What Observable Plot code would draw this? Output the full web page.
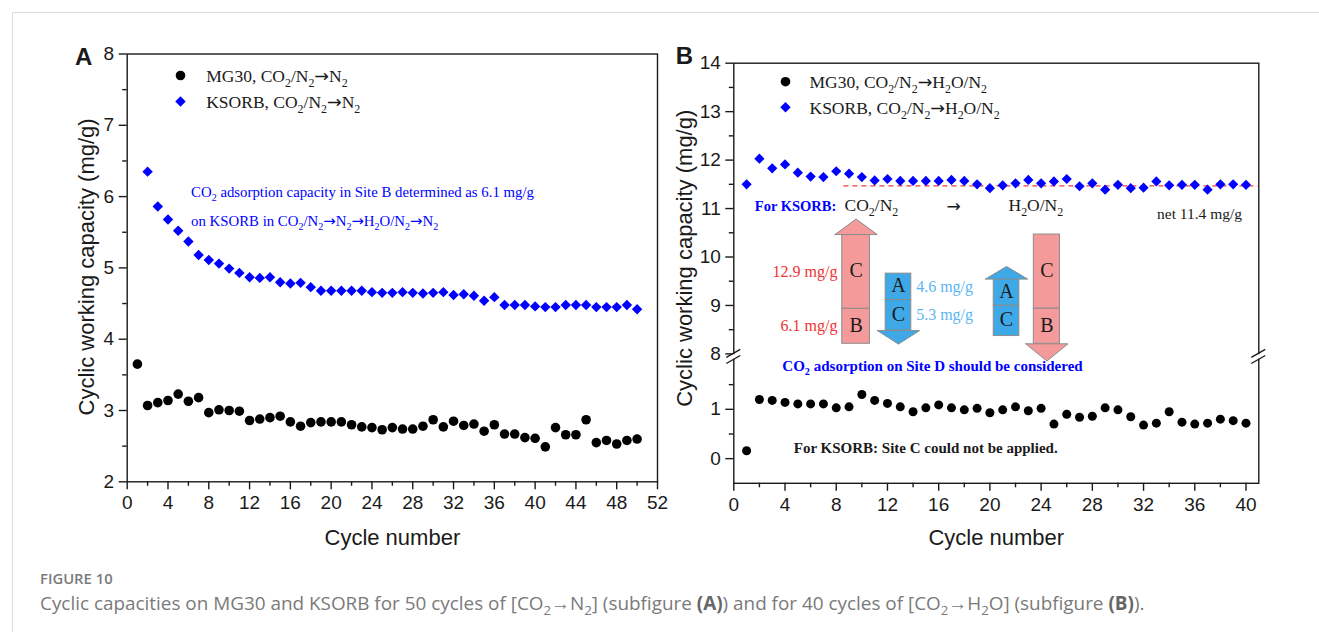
<!DOCTYPE html>
<html>
<head>
<meta charset="utf-8">
<script src="https://cdn.jsdelivr.net/npm/d3@7"></script>
<script src="https://cdn.jsdelivr.net/npm/@observablehq/plot@0.6"></script>
<style>
  body { margin: 0; background: #fff; }
  #fig { position: relative; width: 1319px; height: 632px; overflow: hidden; background: #fff; }
  #card { position: absolute; left: 12px; top: 12px; width: 1320px; height: 630px; border-top: 1px solid #dcdcdc; border-left: 1px solid #dcdcdc; }
  .panel { position: absolute; top: 0; }
  .panel svg { overflow: visible; }
  #capnum { position: absolute; left: 40px; top: 568px; font: 600 14.8px "Open Sans", Roboto, sans-serif; color: #7a7a7a; }
  #cap { position: absolute; left: 40px; top: 590px; font: 18.9px "Open Sans", Roboto, sans-serif; color: #7a7a7a; white-space: nowrap; }
  #cap sub { font-size: 70%; line-height: 0; }
  #cap b { color: #666; }
</style>
</head>
<body>
<div id="fig">
  <div id="card"></div>
  <div id="panelA" class="panel" style="left:0px"></div>
  <div id="panelB" class="panel" style="left:640px"></div>
  <div id="panelD" class="panel" style="left:640px"></div>
  <div id="capnum">FIGURE 10</div>
  <div id="cap">Cyclic capacities on MG30 and KSORB for 50 cycles of [CO<sub>2</sub>→N<sub>2</sub>] (subfigure <b>(A)</b>) and for 40 cycles of [CO<sub>2</sub>→H<sub>2</sub>O] (subfigure <b>(B)</b>).</div>
</div>
<script>
// ---------------- Data ----------------
// Panel A: CO2/N2 -> N2, cycles 1..50 (MG30) and 2..50 (KSORB)
const mg30A = [3.65,3.07,3.11,3.14,3.23,3.13,3.18,2.97,3.01,3.00,
               2.99,2.86,2.88,2.90,2.92,2.84,2.78,2.83,2.84,2.84,
               2.84,2.80,2.77,2.76,2.73,2.76,2.74,2.74,2.78,2.87,
               2.77,2.85,2.79,2.81,2.71,2.80,2.67,2.67,2.62,2.61,
               2.49,2.76,2.66,2.66,2.87,2.55,2.58,2.53,2.58,2.60];
const mg30AFirstCycle = 1;
const ksorbA = [6.35,5.86,5.68,5.52,5.37,5.18,5.11,5.06,4.99,4.93,
                4.87,4.86,4.87,4.80,4.78,4.79,4.73,4.68,4.68,4.68,
                4.68,4.68,4.66,4.65,4.65,4.66,4.65,4.64,4.65,4.66,
                4.62,4.63,4.61,4.54,4.59,4.48,4.48,4.48,4.46,4.45,
                4.45,4.48,4.48,4.48,4.45,4.45,4.45,4.48,4.42];
const ksorbAFirstCycle = 2;

// Panel B: CO2/N2 -> H2O/N2, cycles 1..40
const ksorbB = [11.50,12.03,11.83,11.91,11.74,11.66,11.65,11.77,11.72,11.65,
                11.58,11.61,11.57,11.57,11.57,11.57,11.59,11.57,11.50,11.42,
                11.48,11.52,11.59,11.52,11.56,11.61,11.46,11.52,11.39,11.49,
                11.42,11.43,11.56,11.48,11.49,11.49,11.39,11.50,11.50,11.49];
const mg30B = [0.16,1.20,1.18,1.14,1.11,1.11,1.11,1.03,1.05,1.30,
               1.18,1.12,1.05,0.95,1.03,1.09,1.03,0.99,1.02,0.93,
               0.99,1.05,0.97,1.02,0.70,0.90,0.84,0.86,1.03,0.99,
               0.85,0.68,0.72,0.95,0.74,0.70,0.72,0.80,0.77,0.72];
const bFirstCycle = 1;
const netLine = [{y: 11.47, x1: 8.6, x2: 41}];

// Site capacities in the schematic (mg/g)
const siteCO2 = {B: 6.1, C: 12.9};   // CO2/N2 step
const siteH2O = {A: 4.6, C: 5.3};    // H2O/N2 step

// Tick labels
const xTicksA = [0,4,8,12,16,20,24,28,32,36,40,44,48,52];
const xMinorA = [2,6,10,14,18,22,26,30,34,38,42,46,50];
const yTicksA = [2,3,4,5,6,7,8];
const yMinorA = [2.5,3.5,4.5,5.5,6.5,7.5];
const xTicksB = [0,4,8,12,16,20,24,28,32,36,40];
const xMinorB = [2,6,10,14,18,22,26,30,34,38];
const yTicksB = [0,1,8,9,10,11,12,13,14];
const yMinorB = [0.5,1.5,8.5,9.5,10.5,11.5,12.5,13.5];

// Texts
const yTitle = "Cyclic working capacity (mg/g)";
const xTitle = "Cycle number";
const legendA = ["MG30, CO₂/N₂→N₂", "KSORB, CO₂/N₂→N₂"];
const legendB = ["MG30, CO₂/N₂→H₂O/N₂", "KSORB, CO₂/N₂→H₂O/N₂"];
const noteA = ["CO₂ adsorption capacity in Site B determined as 6.1 mg/g", "on KSORB in CO₂/N₂→N₂→H₂O/N₂→N₂"];

// ---------------- Styles ----------------
const SANS = '"Liberation Sans", Arial, sans-serif';
const SERIF = '"Liberation Serif", "Times New Roman", serif';
const INK = "#1a1a1a";
const BLUE = "#0000ff";
const PINK = "#f59a9a", SKY = "#3fa8e6", EDGE = "#8c8c8c";
const fmt = d => String(d);

function axes(xT, xM, yT, yM) {
  const common = {strokeWidth: 1.4, fontSize: 19, fontFamily: SANS, label: null};
  return [
    Plot.axisX({...common, ticks: xT, tickSize: 8, tickPadding: 6, tickFormat: fmt}),
    Plot.axisX({...common, ticks: xM, tickSize: 4.5, tickFormat: () => ""}),
    Plot.axisY({...common, ticks: yT, tickSize: 8, tickPadding: 5, tickFormat: fmt}),
    Plot.axisY({...common, ticks: yM, tickSize: 4.5, tickFormat: () => ""})
  ];
}
const one = {length: 1};
function label(text, o) {
  return Plot.text(one, {text: [text], fill: INK, textAnchor: "start", lineAnchor: "middle", frameAnchor: "top-left", ...o});
}

// real subscripts and a full-width arrow glyph inside SVG texts
function subscriptify(root) {
  root.querySelectorAll("text").forEach(t => {
    const s = t.textContent;
    if (!/[₂→]/.test(s)) return;
    const fs = parseFloat(getComputedStyle(t).fontSize) || 16;
    const sh = (0.28 * fs).toFixed(2);
    t.textContent = "";
    let shifted = false;
    for (const p of s.split(/(₂|→)/)) {
      if (!p) continue;
      const ts = document.createElementNS("http://www.w3.org/2000/svg", "tspan");
      if (p === "₂") {
        ts.textContent = "2"; ts.setAttribute("font-size", (0.68 * fs).toFixed(2));
        if (!shifted) ts.setAttribute("dy", sh);
        shifted = true;
      } else {
        ts.textContent = p;
        if (p === "→") { ts.setAttribute("font-family", '"DejaVu Sans", sans-serif'); ts.setAttribute("font-size", (1.0 * fs).toFixed(2)); }
        if (shifted) ts.setAttribute("dy", "-" + sh);
        shifted = false;
      }
      t.appendChild(ts);
    }
  });
}

// ---------------- Panel A ----------------
const A = Plot.plot({
  width: 680, height: 560,
  marginLeft: 126.7, marginRight: 23, marginTop: 53.5, marginBottom: 78.7,
  style: {fontFamily: SANS, fontSize: "19px", color: INK, background: "transparent"},
  x: {domain: [0, 52], axis: null},
  y: {domain: [2, 8], axis: null},
  marks: [
    Plot.frame({stroke: INK, strokeWidth: 1.4}),
    ...axes(xTicksA, xMinorA, yTicksA, yMinorA),
    Plot.dot(mg30A, {x: (d, i) => i + mg30AFirstCycle, y: d => d, r: 4.8, fill: "#000", stroke: null}),
    Plot.dot(ksorbA, {x: (d, i) => i + ksorbAFirstCycle, y: d => d, r: 4.7, symbol: "diamond2", fill: BLUE, stroke: null}),
    // legend
    Plot.dot(one, {frameAnchor: "top-left", dx: 53.3, dy: 21.5, r: 4.8, fill: "#000"}),
    Plot.dot(one, {frameAnchor: "top-left", dx: 53.3, dy: 47.5, r: 4.7, symbol: "diamond2", fill: BLUE}),
    label(legendA[0], {dx: 79, dy: 22.5, fontFamily: SERIF, fontSize: 17.5}),
    label(legendA[1], {dx: 79, dy: 48.5, fontFamily: SERIF, fontSize: 17.5}),
    // annotation
    label(noteA[0], {dx: 63.9, dy: 138.5, fontFamily: SERIF, fontSize: 14.8, fill: BLUE}),
    label(noteA[1], {dx: 63.9, dy: 167.5, fontFamily: SERIF, fontSize: 14.8, fill: BLUE}),
    // titles
    label("A", {dx: -43.5, dy: 3, fontSize: 24, fontWeight: "bold", textAnchor: "middle", fontFamily: SANS}),
    Plot.text(one, {text: [yTitle], frameAnchor: "left", rotate: -90, dx: -40.5, dy: -1, textAnchor: "middle", lineAnchor: "middle", fontSize: 22, fontFamily: SANS, fill: INK}),
    Plot.text(one, {text: [xTitle], frameAnchor: "bottom", dy: 56, textAnchor: "middle", lineAnchor: "middle", fontSize: 22, fontFamily: SANS, fill: INK})
  ]
});
document.getElementById("panelA").append(A);
subscriptify(A);

// ---------------- Panel B (broken y axis via piecewise scale) ----------------
const WB = 640, HB = 560, mlB = 93.3, mrB = 21.7, mtB = 62.7, mbB = 77.2;
const B = Plot.plot({
  width: WB, height: HB,
  marginLeft: mlB, marginRight: mrB, marginTop: mtB, marginBottom: mbB,
  style: {fontFamily: SANS, fontSize: "19px", color: INK, background: "transparent"},
  x: {domain: [0, 41], axis: null},
  y: {type: "linear", domain: [-0.5, 2, 8, 14], range: [482.8, 359.5, 353.4, 62.7], axis: null},
  marks: [
    Plot.frame({stroke: INK, strokeWidth: 1.4}),
    ...axes(xTicksB, xMinorB, yTicksB, yMinorB),
    Plot.ruleY(netLine, {y: "y", x1: "x1", x2: "x2", stroke: "#ee3b3b", strokeWidth: 1.3, strokeDasharray: "5,4"}),
    Plot.dot(mg30B, {x: (d, i) => i + bFirstCycle, y: d => d, r: 4.5, fill: "#000", stroke: null}),
    Plot.dot(ksorbB, {x: (d, i) => i + bFirstCycle, y: d => d, r: 4.6, symbol: "diamond2", fill: BLUE, stroke: null}),
    // legend
    Plot.dot(one, {frameAnchor: "top-left", dx: 51.7, dy: 18.5, r: 4.8, fill: "#000"}),
    Plot.dot(one, {frameAnchor: "top-left", dx: 51.7, dy: 44, r: 4.7, symbol: "diamond2", fill: BLUE}),
    label(legendB[0], {dx: 75.7, dy: 19.5, fontFamily: SERIF, fontSize: 17.5}),
    label(legendB[1], {dx: 75.7, dy: 45, fontFamily: SERIF, fontSize: 17.5}),
    // schematic header texts
    label("For KSORB:", {dx: 21, dy: 143, fontFamily: SERIF, fontSize: 14.5, fontWeight: "bold", fill: BLUE}),
    label("CO₂/N₂", {dx: 110.7, dy: 142, fontFamily: SERIF, fontSize: 17.5}),
    label("→", {dx: 219.7, dy: 143.5, fontFamily: SERIF, fontSize: 17, textAnchor: "middle"}),
    label("H₂O/N₂", {dx: 274.7, dy: 142, fontFamily: SERIF, fontSize: 17.5}),
    label("net 11.4 mg/g", {dx: 423.2, dy: 151, fontFamily: SERIF, fontSize: 15.5}),
    label("CO₂ adsorption on Site D should be considered", {dx: 198.7, dy: 302.5, fontFamily: SERIF, fontSize: 15, fontWeight: "bold", fill: BLUE, textAnchor: "middle"}),
    label("For KSORB: Site C could not be applied.", {dx: 191.9, dy: 384.5, fontFamily: SERIF, fontSize: 15, fontWeight: "bold", textAnchor: "middle"}),
    // titles
    label("B", {dx: -49.3, dy: -6.5, fontSize: 24, fontWeight: "bold", textAnchor: "middle", fontFamily: SANS}),
    Plot.text(one, {text: [yTitle], frameAnchor: "left", rotate: -90, dx: -49, dy: -15, textAnchor: "middle", lineAnchor: "middle", fontSize: 22, fontFamily: SANS, fill: INK}),
    Plot.text(one, {text: [xTitle], frameAnchor: "bottom", dy: 54.5, textAnchor: "middle", lineAnchor: "middle", fontSize: 22, fontFamily: SANS, fill: INK})
  ]
});
document.getElementById("panelB").append(B);
subscriptify(B);

// axis break marks, positioned with panel B's own y scale
(function addBreaks() {
  const y = B.scale("y");
  const yTop = y.apply(8), yBot = y.apply(2);
  const svg = d3.select(B);
  for (const x0 of [mlB, WB - mrB]) {
    svg.append("rect").attr("x", x0 - 3).attr("y", yTop + 0.8).attr("width", 6).attr("height", yBot - yTop - 1.6).attr("fill", "#fff");
    for (const yb of [yTop, yBot]) {
      svg.append("line").attr("x1", x0 - 7).attr("y1", yb + 4).attr("x2", x0 + 7).attr("y2", yb - 4)
        .attr("stroke", INK).attr("stroke-width", 1.4);
    }
  }
})();

// ---------------- Schematic overlay (site capacity arrows) ----------------
// layout only: arrow centre (cycle units), start level, direction, site order from start
const arrowLayout = [
  {cx: 9.55, start: 0,    dir: 1,  sites: ["B", "C"], cap: siteCO2, fill: PINK, hw: 1.08, head: 2.7, labelSide: -1, labelColor: "#f03232"},
  {cx: 12.86, start: 12.2, dir: -1, sites: ["A", "C"], cap: siteH2O, fill: SKY,  hw: 1.0,  head: 2.35, labelSide: 1, labelColor: "#5ab6f2"},
  {cx: 21.3, start: 1.35, dir: 1,  sites: ["C", "A"], cap: siteH2O, fill: SKY,  hw: 1.0,  head: 2.2, labelSide: 0},
  {cx: 24.45, start: 19.0, dir: -1, sites: ["C", "B"], cap: siteCO2, fill: PINK, hw: 1.02, head: 3.0, labelSide: 0}
];
const segs = [], heads = [], leftLabels = [], rightLabels = [];
arrowLayout.forEach(a => {
  let lvl = a.start;
  for (const s of a.sites) {
    const v = a.cap[s];
    const nxt = lvl + a.dir * v;
    const seg = {x1: a.cx - a.hw, x2: a.cx + a.hw, y1: lvl, y2: nxt, fill: a.fill, site: s, xm: a.cx, ym: (lvl + nxt) / 2};
    segs.push(seg);
    if (a.labelSide) (a.labelSide < 0 ? leftLabels : rightLabels).push({x: a.cx + a.labelSide * (a.hw + 0.38), y: seg.ym, text: `${v} mg/g`, fill: a.labelColor});
    lvl = nxt;
  }
  const hw2 = 1.65;
  heads.push({fill: a.fill, pts: [{x: a.cx - hw2, y: lvl}, {x: a.cx + hw2, y: lvl}, {x: a.cx, y: lvl + a.dir * a.head}, {x: a.cx - hw2, y: lvl}]});
});

const D = Plot.plot({
  width: WB, height: HB,
  marginLeft: mlB, marginRight: mrB, marginTop: mtB, marginBottom: mbB,
  style: {fontFamily: SERIF, background: "transparent", color: INK},
  x: {domain: [0, 41], axis: null},
  y: {domain: [0, 20], range: [343.3, 228.3], axis: null},
  color: {type: "identity"},
  marks: [
    Plot.rect(segs, {x1: "x1", x2: "x2", y1: "y1", y2: "y2", fill: "fill", stroke: EDGE, strokeWidth: 1}),
    ...heads.map(h => Plot.line(h.pts, {x: "x", y: "y", fill: h.fill, stroke: EDGE, strokeWidth: 1})),
    Plot.text(segs, {x: "xm", y: "ym", text: "site", fontSize: 20, fontFamily: SERIF, fill: INK, dy: -1}),
    Plot.text(leftLabels, {x: "x", y: "y", text: "text", fill: "fill", textAnchor: "end", fontSize: 16, fontFamily: SERIF}),
    Plot.text(rightLabels, {x: "x", y: "y", text: "text", fill: "fill", textAnchor: "start", fontSize: 16, fontFamily: SERIF})
  ]
});
document.getElementById("panelD").append(D);
</script>
</body>
</html>
